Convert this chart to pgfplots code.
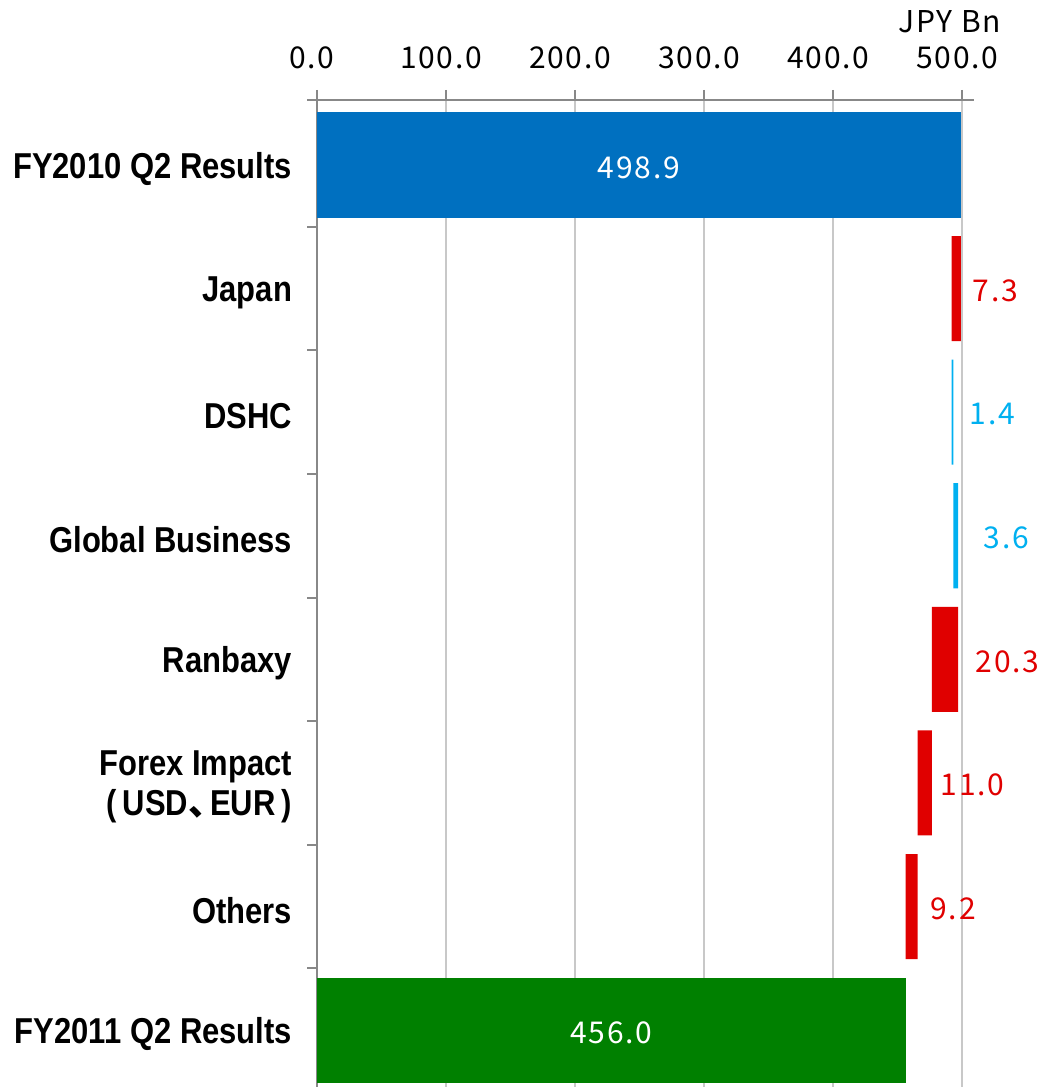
\documentclass[border=0pt]{standalone}
\usepackage{pgfplots}
\pgfplotsset{compat=1.18}
\usepackage{fontspec}
\setmainfont{Liberation Sans}
\newfontfamily\narrow{Liberation Sans}[FakeStretch=0.86]
\newfontfamily\jp{Noto Sans CJK JP}[LetterSpace=6]
\definecolor{barblue}{HTML}{0070C0}
\definecolor{barred}{HTML}{E00000}
\definecolor{barcyan}{HTML}{00B0F0}
\definecolor{bargreen}{HTML}{008000}
\definecolor{gridgray}{HTML}{C8C8C8}
\definecolor{axisgray}{HTML}{888888}
\tikzset{numfont/.style={font=\jp\fontsize{15}{18}\selectfont}}
\pgfplotsset{
    frame/.style={scale only axis, width=328.5pt, height=493.5pt,
        xmin=0, xmax=509, ymin=-0.46, ymax=7.526, clip=false},
}

\begin{document}
\begin{tikzpicture}
\begin{axis}[
    frame,
    xbar stacked,
    bar width=0.85,
    axis x line*=top,
    axis y line*=left,
    axis line style={axisgray, line width=1pt},
    x axis line style={shorten <=-5pt},
    tick align=outside,
    major tick length=5pt,
    minor tick length=5pt,
    tick style={axisgray, line width=1pt},
    xtick={0,100,...,500},
    xticklabels={0.0,100.0,200.0,300.0,400.0,500.0},
    xticklabel style={numfont, text=black, yshift=7pt, xshift=-2.5pt},
    xmajorgrids,
    grid style={gridgray, line width=1pt},
    ytick={0,...,7},
    minor ytick={0.5,1.5,...,6.5},
    major y tick style={draw=none},
    yticklabels={FY2011 Q2 Results, Others,
        {Forex Impact\\(\hspace{3pt}USD\makebox[11pt][l]{\jp 、}EUR\hspace{3pt})\hspace{5pt}},
        Ranbaxy, Global Business, DSHC, Japan, FY2010 Q2 Results},
    yticklabel style={font=\narrow\bfseries\fontsize{18}{20}\selectfont, align=right,
        text=black, xshift=-4pt, yshift=-2pt},
    xlabel={JPY Bn},
    xlabel style={at={(axis description cs:1,1)}, anchor=east, xshift=17pt, yshift=39pt, numfont},
]
% invisible base of the waterfall
\addplot[draw=none, fill=none] coordinates {
    (0,7) (491.6,6) (491.6,5) (493.0,4) (476.3,3) (465.3,2) (456.1,1) (0,0)};
% start value
\addplot[draw=none, fill=barblue] coordinates {
    (498.9,7) (0,6) (0,5) (0,4) (0,3) (0,2) (0,1) (0,0)};
% decreases
\addplot[draw=none, fill=barred] coordinates {
    (0,7) (7.3,6) (0,5) (0,4) (20.3,3) (11.0,2) (9.2,1) (0,0)};
% increases
\addplot[draw=none, fill=barcyan] coordinates {
    (0,7) (0,6) (1.4,5) (3.6,4) (0,3) (0,2) (0,1) (0,0)};
% end value
\addplot[draw=none, fill=bargreen] coordinates {
    (0,7) (0,6) (0,5) (0,4) (0,3) (0,2) (0,1) (456.0,0)};
\end{axis}

% value labels, same frame without stacking
\begin{axis}[frame, hide axis]
\addplot[draw=none, mark=none, nodes near coords, point meta=explicit symbolic,
    every node near coord/.append style={anchor=center, text=white, numfont, yshift=-1.5pt}]
    coordinates {(249.45,7) [498.9] (228.0,0) [456.0]};
\addplot[draw=none, mark=none, nodes near coords, point meta=explicit symbolic,
    every node near coord/.append style={anchor=west, text=barred, numfont,
        inner xsep=0pt, yshift=-1pt}]
    coordinates {(507.8,6) [7.3] (510,3) [20.3] (483,2) [11.0] (475,1) [9.2]};
\addplot[draw=none, mark=none, nodes near coords, point meta=explicit symbolic,
    every node near coord/.append style={anchor=west, text=barcyan, numfont,
        inner xsep=0pt, yshift=-1pt}]
    coordinates {(505.4,5) [1.4] (516.3,4) [3.6]};
\end{axis}
\pgfresetboundingbox
\path[use as bounding box] ([xshift=-158.5pt]current axis.south west)
    rectangle ([xshift=32pt,yshift=50pt]current axis.north east);
\end{tikzpicture}
\end{document}
